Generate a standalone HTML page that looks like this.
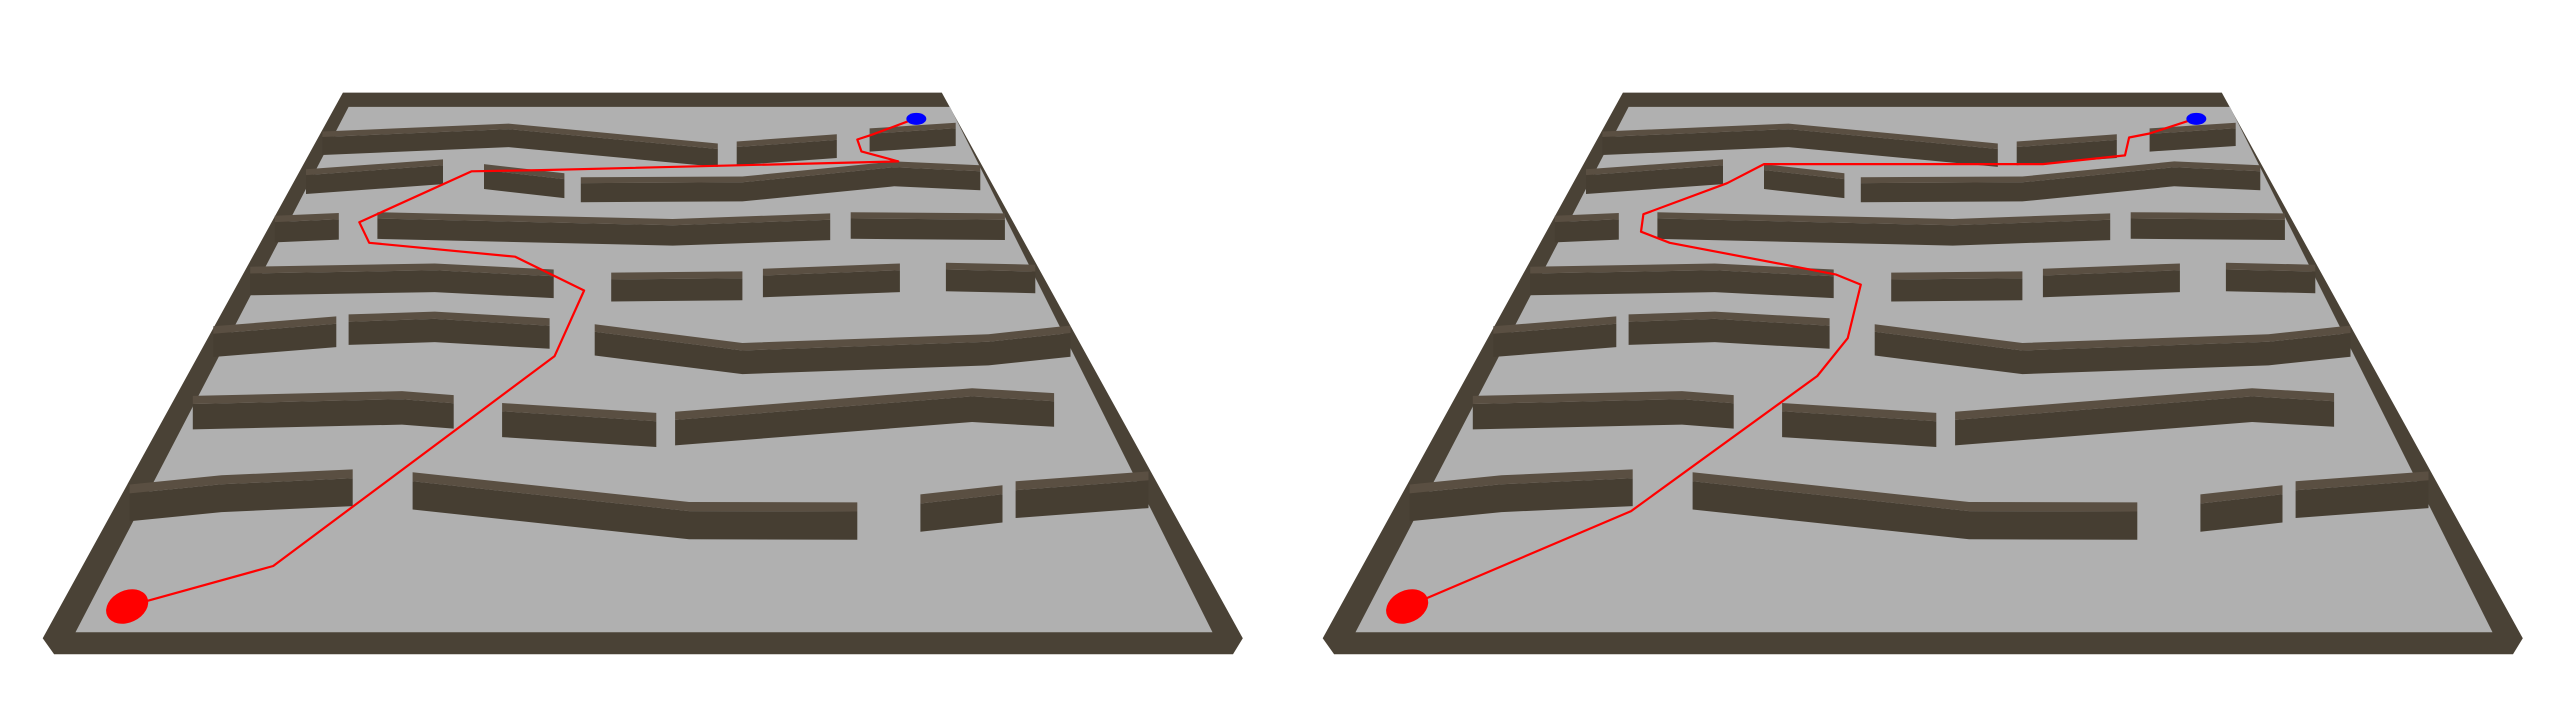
<!DOCTYPE html>
<html><head><meta charset="utf-8"><style>
html,body{margin:0;padding:0;background:#fff;}
svg{display:block;}
</style></head>
<body>
<svg id="scene" width="2560" height="720" viewBox="0 0 2560 720" xmlns="http://www.w3.org/2000/svg">
<g id="left"></g>
<g id="right" transform="translate(1280,0)"></g>
</svg>
<script>
// board outline and floor (reference-frame units)
const boardOuter = [[418,82],[1148,82],[1515,1455],[1503,1495],[66,1495],[52,1455]];
const boardFloor = [[425,118],[1158,118],[1478,1440],[92,1440]];
// wall top-edge polylines
const walls = [
 [[393,180],[620,160],[875,210]],
 [[898,205],[1020,187]],
 [[1060,172],[1165,158]],
 [[373,275],[540,250]],
 [[590,262],[688,285]],
 [[708,295],[905,293],[1090,255],[1195,265]],
 [[335,392],[413,385]],
 [[460,383],[820,400],[1012,386]],
 [[1037,383],[1225,386]],
 [[305,520],[530,512],[675,527]],
 [[745,535],[905,532]],
 [[930,525],[1097,512]],
 [[1153,510],[1262,515]],
 [[260,670],[410,645]],
 [[425,640],[530,633],[670,650]],
 [[725,665],[905,712],[1205,690],[1305,668]],
 [[235,845],[490,833],[553,843]],
 [[612,863],[800,888]],
 [[823,885],[1185,826],[1285,838]],
 [[158,1068],[270,1045],[430,1030]],
 [[503,1037],[840,1112],[1045,1113]],
 [[1122,1093],[1222,1070]],
 [[1238,1060],[1400,1035]]
];
const pathLeft = [[155,1375],[333,1273],[676,745],[712,580],[628,495],[450,460],[438,408],[575,280],[660,277],[1095,255],[1050,230],[1045,200],[1063,188],[1115,148]];
const pathRight = [[155,1375],[428,1135],[655,795],[692,700],[708,565],[678,540],[628,520],[475,460],[440,432],[443,388],[545,310],[590,262],[930,262],[1030,240],[1035,195],[1060,185],[1115,148]];
const startPt = [155,1375];
const goalPt = [1117,148];

const NS='http://www.w3.org/2000/svg';
function X(x){return x/1.219;}
function Y(y){return 60+y/2.516;}
function pts(a){return a.map(p=>X(p[0]).toFixed(1)+','+Y(p[1]).toFixed(1)).join(' ');}
function mk(tag,attrs,parent){const e=document.createElementNS(NS,tag);for(const k in attrs)e.setAttribute(k,attrs[k]);parent.appendChild(e);return e;}

function build(g,path){
  const outer=mk('polygon',{points:pts(boardOuter),fill:'#4a4236'},g);
  
  
  const floor=mk('polygon',{points:pts(boardFloor),fill:'#b0b0b0'},g);
  
  
  walls.forEach((w,i)=>{
    const wg=mk('g',{},g);
    
    
    const my=w.reduce((s,p)=>s+p[1],0)/w.length;
    const t=12+my/1400*14, f=40+my/1400*40;
    const top=w.concat(w.slice().reverse().map(p=>[p[0],p[1]+t]));
    const front=w.map(p=>[p[0],p[1]+t]).concat(w.slice().reverse().map(p=>[p[0],p[1]+t+f]));
    mk('polygon',{points:pts(front),fill:'#463e32'},wg);
    mk('polygon',{points:pts(top),fill:'#5a4f42'},wg);
  });
  const pl=mk('polyline',{points:pts(path),fill:'none',stroke:'#ff0000','stroke-width':2.2,'stroke-linejoin':'round'},g);
  
  
  const s=mk('ellipse',{cx:X(startPt[0]),cy:Y(startPt[1]),rx:22,ry:16,fill:'#ff0000',transform:'rotate(-25 '+X(startPt[0])+' '+Y(startPt[1])+')'},g);
  
  
  const b=mk('ellipse',{cx:X(goalPt[0]),cy:Y(goalPt[1]),rx:10,ry:6,fill:'#0000ff'},g);
  
  
}
build(document.getElementById('left'),pathLeft);
build(document.getElementById('right'),pathRight);
</script>
</body></html>
